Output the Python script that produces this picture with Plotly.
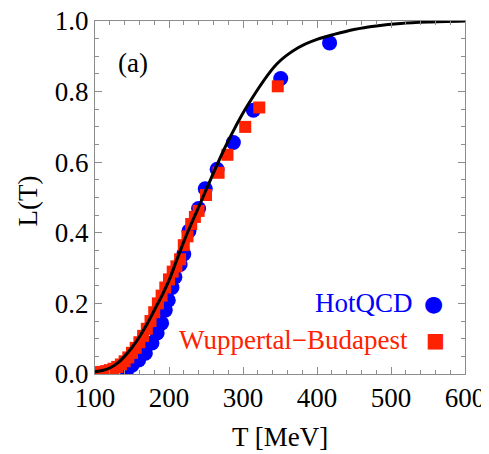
import plotly.graph_objects as go

# Model curve L(T)
curve_T = [100, 110, 120, 130, 140, 150, 160, 170, 180, 190, 200, 210, 220, 230,
           242, 255, 276, 305, 346, 375, 400, 423, 450, 480, 513, 550, 600]
curve_L = [0.006, 0.010, 0.017, 0.030, 0.050, 0.075, 0.105, 0.140, 0.180, 0.220,
           0.265, 0.320, 0.375, 0.425, 0.482, 0.545, 0.643, 0.757, 0.879, 0.925,
           0.948, 0.962, 0.976, 0.986, 0.993, 0.997, 1.0]

# HotQCD lattice points
hot_T = [143, 150, 159, 168, 177, 184, 190, 195, 199, 204, 208, 215, 220, 227,
         240, 249, 265, 287, 314, 351, 417]
hot_L = [0.011, 0.025, 0.040, 0.059, 0.088, 0.116, 0.144, 0.181, 0.209, 0.245,
         0.275, 0.310, 0.340, 0.405, 0.469, 0.525, 0.580, 0.656, 0.747, 0.837, 0.938]

# Wuppertal-Budapest lattice points
wb_T = [100, 105, 110, 115, 120, 125, 130, 135, 140, 145, 150, 155, 160, 165, 170,
        175, 180, 185, 190, 195, 200, 205, 210, 215, 220, 225, 230, 235, 240,
        250, 267, 279, 303, 322, 347]
wb_L = [0.004, 0.005, 0.006, 0.008, 0.011, 0.015, 0.020, 0.027, 0.036, 0.047, 0.060,
        0.074, 0.090, 0.108, 0.128, 0.150, 0.175, 0.200, 0.222, 0.245, 0.268, 0.290,
        0.305, 0.325, 0.365, 0.390, 0.425, 0.445, 0.462, 0.507, 0.570, 0.621, 0.700,
        0.755, 0.815]

x_ticks = [100, 200, 300, 400, 500, 600]
y_ticks = [0.0, 0.2, 0.4, 0.6, 0.8, 1.0]

BLUE = "#0000ff"
RED = "#ff2200"
FONT = "Liberation Serif"
FSIZE = 27

fig = go.Figure()

fig.add_trace(go.Scatter(
    x=hot_T, y=hot_L, mode="markers",
    marker=dict(symbol="circle", size=15, color=BLUE, line=dict(width=0)),
    showlegend=False,
))
fig.add_trace(go.Scatter(
    x=wb_T, y=wb_L, mode="markers",
    marker=dict(symbol="square", size=12, color=RED, line=dict(width=0)),
    showlegend=False,
))
fig.add_trace(go.Scatter(
    x=curve_T, y=curve_L, mode="lines",
    line=dict(color="black", width=3, shape="spline", smoothing=0.8),
    showlegend=False,
))

axis_common = dict(
    showgrid=False, zeroline=False, automargin=False, ticklabeloverflow="allow",
    showline=True, linecolor="#8c8c8c", linewidth=1, mirror="allticks",
    ticks="inside", ticklen=7, tickcolor="#8c8c8c", tickwidth=1,
    tickfont=dict(family=FONT, size=FSIZE, color="black"),
)

fig.update_xaxes(
    range=[100, 600], tickvals=x_ticks, ticktext=[str(v) for v in x_ticks],
    minor=dict(dtick=20, ticks="inside", ticklen=4, tickcolor="#8c8c8c"),
    **axis_common,
)
fig.update_yaxes(
    range=[0, 1.0], tickvals=y_ticks, ticktext=[f"{v:.1f}" for v in y_ticks],
    minor=dict(dtick=0.05, ticks="inside", ticklen=4, tickcolor="#8c8c8c"),
    **axis_common,
)


def label(x, y, text, color="black", anchor="center", family=FONT, size=FSIZE, angle=0):
    fig.add_annotation(x=x, y=y, xref="paper", yref="paper", text=text,
                       xanchor=anchor, yanchor="middle", textangle=angle,
                       showarrow=False, font=dict(family=family, size=size, color=color))


# axis titles
label(0.5, -0.178, "T [MeV]")
label(-0.18, 0.49, "L(T)", angle=-90)

# panel tag and hand-placed legend (text left of symbol)
label(0.103, 0.88, "(a)")
label(0.865, 0.201, "HotQCD", color=BLUE, anchor="right")
label(0.851, 0.096, "Wuppertal\u2212Budapest", color=RED, anchor="right")
label(0.914, 0.201, "\u25cf", color=BLUE, family="DejaVu Sans", size=22)
label(0.919, 0.096, "\u25a0", color=RED, family="DejaVu Sans", size=20)

# the page body adds an 8px offset, so the figure is shrunk to fit the window
fig.update_layout(
    width=481, height=446,
    margin=dict(l=87, r=24, t=13, b=80),
    paper_bgcolor="white", plot_bgcolor="white",
)

fig.write_html("out.html")
